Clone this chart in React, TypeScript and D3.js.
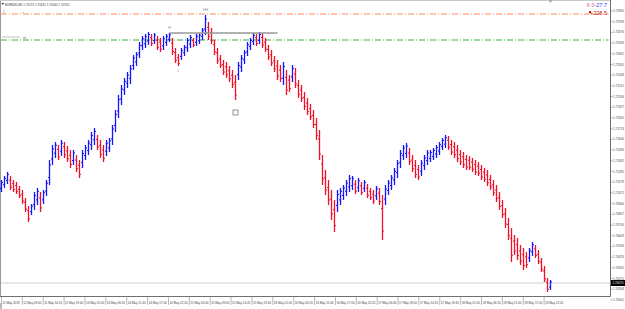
import React from 'react';
import * as d3 from 'd3';

// ---- data (EURNZD, ~46-minute samples) ----
const HIGH = [
  1.7120, 1.7124, 1.7128, 1.7124, 1.7120, 1.7118, 1.7114, 1.7110, 1.7102, 1.7094,
  1.7096, 1.7108, 1.7112, 1.7108, 1.7110, 1.7120, 1.7140, 1.7155, 1.7158, 1.7155,
  1.7160, 1.7158, 1.7154, 1.7150, 1.7150, 1.7145, 1.7140, 1.7150, 1.7155, 1.7160,
  1.7168, 1.7172, 1.7165, 1.7160, 1.7155, 1.7160, 1.7162, 1.7175, 1.7190, 1.7205,
  1.7215, 1.7222, 1.7228, 1.7235, 1.7245, 1.7248, 1.7258, 1.7264, 1.7266, 1.7268,
  1.7266, 1.7267, 1.7264, 1.7262, 1.7264, 1.7266, 1.7267, 1.7262, 1.7252, 1.7246,
  1.7252, 1.7255, 1.7262, 1.7265, 1.7262, 1.7266, 1.7267, 1.7272, 1.7285, 1.7278,
  1.7272, 1.7260, 1.7252, 1.7245, 1.7240, 1.7238, 1.7234, 1.7230, 1.7225, 1.7238,
  1.7245, 1.7250, 1.7258, 1.7262, 1.7267, 1.7266, 1.7268, 1.7267, 1.7262, 1.7255,
  1.7250, 1.7244, 1.7240, 1.7235, 1.7238, 1.7230, 1.7225, 1.7235, 1.7232, 1.7220,
  1.7215, 1.7208, 1.7202, 1.7196, 1.7190, 1.7182, 1.7170, 1.7145, 1.7130, 1.7120,
  1.7110, 1.7100, 1.7110, 1.7112, 1.7115, 1.7120, 1.7125, 1.7124, 1.7120, 1.7122,
  1.7118, 1.7120, 1.7116, 1.7112, 1.7110, 1.7114, 1.7112, 1.7105, 1.7115, 1.7120,
  1.7125, 1.7132, 1.7140, 1.7150, 1.7155, 1.7157, 1.7152, 1.7145, 1.7140, 1.7135,
  1.7140, 1.7145, 1.7150, 1.7150, 1.7152, 1.7155, 1.7158, 1.7162, 1.7165, 1.7164,
  1.7160, 1.7158, 1.7155, 1.7150, 1.7148, 1.7145, 1.7144, 1.7142, 1.7140, 1.7138,
  1.7135, 1.7132, 1.7130, 1.7125, 1.7120, 1.7115, 1.7108, 1.7100, 1.7092, 1.7082,
  1.7072, 1.7065, 1.7062, 1.7055, 1.7052, 1.7048, 1.7052, 1.7058, 1.7055, 1.7050,
  1.7042, 1.7034, 1.7022, 1.7020,
];
const LOW = [
  1.7108, 1.7112, 1.7116, 1.7110, 1.7108, 1.7106, 1.7102, 1.7096, 1.7088, 1.7078,
  1.7085, 1.7090, 1.7095, 1.7088, 1.7096, 1.7104, 1.7115, 1.7135, 1.7142, 1.7140,
  1.7144, 1.7142, 1.7138, 1.7132, 1.7135, 1.7128, 1.7122, 1.7132, 1.7140, 1.7145,
  1.7150, 1.7155, 1.7150, 1.7142, 1.7138, 1.7144, 1.7148, 1.7155, 1.7168, 1.7182,
  1.7195, 1.7205, 1.7212, 1.7216, 1.7230, 1.7234, 1.7242, 1.7250, 1.7252, 1.7255,
  1.7254, 1.7256, 1.7250, 1.7248, 1.7250, 1.7254, 1.7258, 1.7245, 1.7237, 1.7234,
  1.7240, 1.7244, 1.7248, 1.7252, 1.7253, 1.7254, 1.7256, 1.7260, 1.7265, 1.7260,
  1.7256, 1.7245, 1.7236, 1.7232, 1.7225, 1.7222, 1.7218, 1.7212, 1.7200, 1.7220,
  1.7228, 1.7236, 1.7244, 1.7250, 1.7255, 1.7254, 1.7256, 1.7252, 1.7248, 1.7240,
  1.7234, 1.7228, 1.7220, 1.7218, 1.7215, 1.7205, 1.7208, 1.7218, 1.7212, 1.7202,
  1.7198, 1.7190, 1.7185, 1.7180, 1.7172, 1.7160, 1.7140, 1.7115, 1.7105, 1.7095,
  1.7080, 1.7068, 1.7088, 1.7095, 1.7100, 1.7104, 1.7108, 1.7110, 1.7106, 1.7108,
  1.7105, 1.7108, 1.7102, 1.7100, 1.7096, 1.7100, 1.7095, 1.7060, 1.7095, 1.7105,
  1.7110, 1.7115, 1.7122, 1.7132, 1.7140, 1.7142, 1.7135, 1.7128, 1.7122, 1.7120,
  1.7124, 1.7130, 1.7135, 1.7138, 1.7140, 1.7142, 1.7145, 1.7150, 1.7152, 1.7150,
  1.7145, 1.7142, 1.7138, 1.7135, 1.7132, 1.7130, 1.7130, 1.7128, 1.7125, 1.7124,
  1.7120, 1.7118, 1.7114, 1.7110, 1.7104, 1.7098, 1.7090, 1.7082, 1.7072, 1.7060,
  1.7038, 1.7045, 1.7040, 1.7035, 1.7030, 1.7032, 1.7038, 1.7044, 1.7042, 1.7036,
  1.7028, 1.7018, 1.7008, 1.7010,
];
const BAR_MINUTES = 46;
const LABEL_MINUTES = 320;
const TIME_LABELS = [
  '11 May 2018', '11 May 09:00', '11 May 14:20', '11 May 19:40', '14 May 01:00',
  '14 May 06:20', '14 May 11:40', '14 May 17:00', '14 May 22:20', '15 May 03:40',
  '15 May 09:00', '15 May 14:20', '15 May 19:40', '16 May 01:00', '16 May 06:20',
  '16 May 11:40', '16 May 17:00', '16 May 22:20', '17 May 03:40', '17 May 09:00',
  '17 May 14:20', '17 May 19:40', '18 May 01:00', '18 May 06:20', '18 May 11:40',
  '18 May 17:00', '18 May 22:20',
];
const PRICE_TICKS = [
  1.72890, 1.72783, 1.72676, 1.72569, 1.72462, 1.72355, 1.72248, 1.72141, 1.72034, 1.71927,
  1.71820, 1.71713, 1.71606, 1.71499, 1.71392, 1.71285, 1.71178, 1.71071, 1.70964, 1.70857,
  1.70750, 1.70643, 1.70536, 1.70429, 1.70322, 1.70215, 1.70108, 1.70001,
];
const BID = 1.7017;
const LEVEL_ORANGE = 1.7286;
const LEVEL_GREEN = 1.7260;
const H_LEVEL = 1.7267;
const H_FROM = 56;
const H_TO = 92;
const HH_BAR = 68;
const H_BAR = 56;
const L_BAR = 59;
const BOX_BAR = 78;
const TITLE = 'EURNZD,M5  1.70172 1.70181 1.70160 1.70170';

const W = 625;
const H = 309;
const PLOT_R = 610.5;
const PLOT_B = 296.5;
const FONT = 'Liberation Sans, Arial, sans-serif';

export default function App() {
  const n = HIGH.length;
  const x = d3.scaleLinear().domain([0, (n - 1) * BAR_MINUTES]).range([1.5, 550.5]);
  const y = d3.scaleLinear().domain([1.7300, 1.6990]).range([0, 310]);
  const bx = (i: number) => x(i * BAR_MINUTES);
  const mids = HIGH.map((h, i) => (h + LOW[i]) / 2);

  return (
    <svg width={W} height={H} style={{ position: 'absolute', left: 0, top: 0, background: '#fff' }}
      fontFamily={FONT}>
      <rect x={0} y={0} width={W} height={H} fill="#fff" />
      {/* frame */}
      <line x1={0.5} y1={0} x2={0.5} y2={PLOT_B} stroke="#9a9a9a" />
      <line x1={0} y1={0.5} x2={PLOT_R} y2={0.5} stroke="#c8c8c8" />
      <line x1={PLOT_R} y1={0} x2={PLOT_R} y2={PLOT_B} stroke="#707070" />
      <line x1={0} y1={PLOT_B} x2={PLOT_R} y2={PLOT_B} stroke="#707070" />

      {/* level lines */}
      <line x1={1} x2={PLOT_R - 2} y1={y(LEVEL_ORANGE)} y2={y(LEVEL_ORANGE)} stroke="#ff8a5c"
        strokeWidth={1} strokeDasharray="6,2,1,2" />
      <line x1={1} x2={PLOT_R - 2} y1={y(LEVEL_GREEN)} y2={y(LEVEL_GREEN)} stroke="#3cb043"
        strokeWidth={1} strokeDasharray="6,2,1,2" />
      <text x={3} y={y(LEVEL_ORANGE) - 1} fontSize={3} fill="#555">1</text>
      <text x={22} y={y(LEVEL_ORANGE) - 1} fontSize={3} fill="#777">≡</text>
      <line x1={2} x2={20} y1={y(LEVEL_GREEN) - 3} y2={y(LEVEL_GREEN) - 3} stroke="#999" strokeWidth={0.6} />
      <text x={23} y={y(LEVEL_GREEN) - 1} fontSize={3} fill="#777">ml</text>

      {/* bid line */}
      <line x1={1} x2={PLOT_R} y1={y(BID)} y2={y(BID)} stroke="#cfcfcf" strokeWidth={1} />

      {/* OHLC-style bars */}
      {HIGH.map((h, i) => {
        const up = i === 0 ? true : mids[i] >= mids[i - 1];
        const lo = LOW[i];
        const op = up ? lo + (h - lo) * 0.3 : h - (h - lo) * 0.3;
        const cl = up ? h - (h - lo) * 0.2 : lo + (h - lo) * 0.2;
        const c = up ? '#1414ff' : '#f01028';
        const cx = bx(i);
        return (
          <g key={i} stroke={c}>
            <line x1={cx} x2={cx} y1={y(h)} y2={y(lo)} strokeWidth={1.3} />
            <line x1={cx - 1.5} x2={cx} y1={y(op)} y2={y(op)} strokeWidth={1} />
            <line x1={cx} x2={cx + 1.5} y1={y(cl)} y2={y(cl)} strokeWidth={1} />
          </g>
        );
      })}

      {/* H level line and labels */}
      <line x1={bx(H_FROM)} x2={bx(H_TO)} y1={y(H_LEVEL)} y2={y(H_LEVEL)} stroke="#9a9a9a" strokeWidth={1.5} />
      <text x={bx(HH_BAR)} y={y(HIGH[HH_BAR]) - 4} fontSize={3.5} fill="#888" textAnchor="middle">HH</text>
      <text x={bx(H_BAR)} y={y(HIGH[H_BAR]) - 4} fontSize={3.5} fill="#888" textAnchor="middle">H</text>
      <text x={bx(L_BAR)} y={y(LOW[L_BAR]) + 6} fontSize={3.5} fill="#888" textAnchor="middle">L</text>
      <rect x={bx(BOX_BAR) - 2.5} y={y(LOW[BOX_BAR]) + 10} width={5} height={5} fill="#fff" stroke="#777" strokeWidth={0.8} />

      {/* chart shift marker */}
      <path d={`M${bx(n - 1) - 2},0 L${bx(n - 1) + 2},0 L${bx(n - 1)},3 Z`} fill="#aaa" />

      {/* title */}
      <path d="M1.5,3 L4,3 L2.75,5 Z" fill="#333" />
      <text x={5} y={5.5} fontSize={3} fill="#333">{TITLE}</text>

      {/* top-right info */}
      <text x={607} y={7} fontSize={5.5} textAnchor="end">
        <tspan fill="#e05a70">6 0</tspan>
        <tspan fill="#3a3aff">-27.7</tspan>
      </text>
      <rect x={589} y={11} width={2} height={2} fill="#c02020" />
      <text x={607} y={14.5} fontSize={5.5} textAnchor="end" fill="#c02020">+228.5</text>

      {/* price axis */}
      {PRICE_TICKS.map((p, i) => (
        <g key={i}>
          <line x1={PLOT_R} x2={PLOT_R + 2} y1={y(p)} y2={y(p)} stroke="#707070" strokeWidth={0.6} />
          <text x={613} y={y(p) + 1} fontSize={3} fill="#444">{p.toFixed(5)}</text>
        </g>
      ))}
      <rect x={611} y={y(BID) - 3} width={14} height={6} fill="#000" />
      <text x={612.5} y={y(BID) + 1.1} fontSize={3} fill="#fff">{BID.toFixed(5)}</text>

      {/* time axis */}
      {TIME_LABELS.map((t, k) => {
        const tx = x(k * LABEL_MINUTES);
        return (
          <g key={k}>
            <line x1={tx} x2={tx} y1={PLOT_B} y2={305} stroke="#8a8a8a" strokeWidth={0.6} />
            <text x={tx + 1} y={303.5} fontSize={3} fill="#444">{t}</text>
          </g>
        );
      })}
      <rect x={0} y={303} width={2} height={6} fill="#bbb" />
    </svg>
  );
}
